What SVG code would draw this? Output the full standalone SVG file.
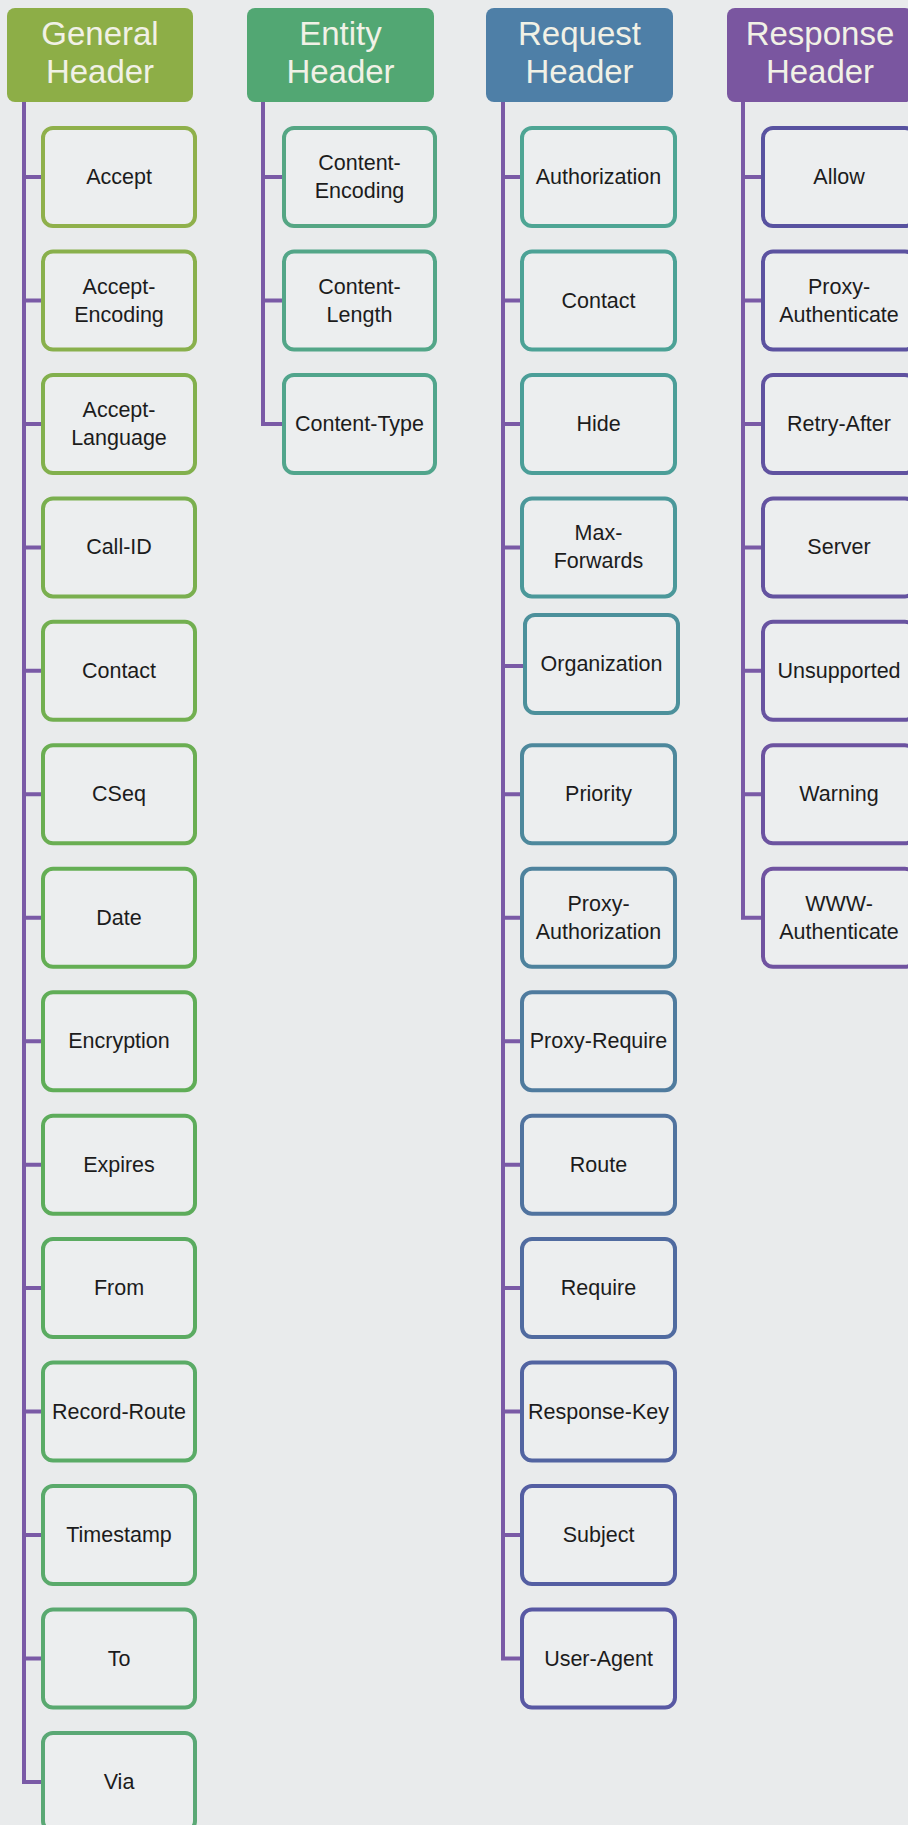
<svg xmlns="http://www.w3.org/2000/svg" width="908" height="1825" viewBox="0 0 908 1825">
<style>
.bg{fill:#e9ebec}
.hd{stroke:none}
.ht{font-family:"Liberation Sans",Arial,sans-serif;font-size:33px;fill:#f1f1e6;text-anchor:middle}
.bx{fill:#eceeef;stroke-width:4}
.t{font-family:"Liberation Sans",Arial,sans-serif;font-size:21.5px;fill:#1c1c1c;text-anchor:middle}
.cn{fill:none;stroke:#7a5aa6;stroke-width:4}
</style>
<rect class="bg" x="0" y="0" width="908" height="1825"/>
<g id="connectors">
<path class="cn" d="M24 102V1782H43M24 177H43M24 300.5H43M24 424H43M24 547.4H43M24 670.8H43M24 794.3H43M24 917.8H43M24 1041.2H43M24 1164.7H43M24 1288.1H43M24 1411.6H43M24 1535.1H43M24 1658.5H43"/>
<path class="cn" d="M263 102V424H284M263 177H284M263 300.5H284"/>
<path class="cn" d="M503 102V1658.5H522M503 177H522M503 300.5H522M503 424H522M503 547.4H522M503 666H525M503 794.3H522M503 917.8H522M503 1041.2H522M503 1164.7H522M503 1288.1H522M503 1411.6H522M503 1535.1H522"/>
<path class="cn" d="M743 102V917.8H763M743 177H763M743 300.5H763M743 424H763M743 547.4H763M743 670.8H763M743 794.3H763"/>
</g>
<g id="general-header"><rect class="hd" x="7" y="8" width="186" height="94" rx="8" fill="#8dae47"/><text class="ht" x="100" y="45">General</text><text class="ht" x="100" y="83">Header</text></g>
<g id="entity-header"><rect class="hd" x="247" y="8" width="187" height="94" rx="8" fill="#52a773"/><text class="ht" x="340.5" y="45">Entity</text><text class="ht" x="340.5" y="83">Header</text></g>
<g id="request-header"><rect class="hd" x="486" y="8" width="187" height="94" rx="8" fill="#4e7fa7"/><text class="ht" x="579.5" y="45">Request</text><text class="ht" x="579.5" y="83">Header</text></g>
<g id="response-header"><rect class="hd" x="727" y="8" width="186" height="94" rx="8" fill="#7a56a0"/><text class="ht" x="820" y="45">Response</text><text class="ht" x="820" y="83">Header</text></g>

<g id="g-accept"><rect class="bx" x="43" y="128" width="152" height="98" rx="10" stroke="#8fb04b"/><text class="t" x="119" y="184">Accept</text></g>
<g id="g-accept-encoding"><rect class="bx" x="43" y="251.5" width="152" height="98" rx="10" stroke="#89b04c"/><text class="t" x="119" y="293.5">Accept-</text><text class="t" x="119" y="321.5">Encoding</text></g>
<g id="g-accept-language"><rect class="bx" x="43" y="375" width="152" height="98" rx="10" stroke="#82b04d"/><text class="t" x="119" y="417">Accept-</text><text class="t" x="119" y="445">Language</text></g>
<g id="g-call-id"><rect class="bx" x="43" y="498.4" width="152" height="98" rx="10" stroke="#7aaf4f"/><text class="t" x="119" y="554.4">Call-ID</text></g>
<g id="g-contact"><rect class="bx" x="43" y="621.8" width="152" height="98" rx="10" stroke="#72af50"/><text class="t" x="119" y="677.8">Contact</text></g>
<g id="g-cseq"><rect class="bx" x="43" y="745.3" width="152" height="98" rx="10" stroke="#6aae52"/><text class="t" x="119" y="801.3">CSeq</text></g>
<g id="g-date"><rect class="bx" x="43" y="868.8" width="152" height="98" rx="10" stroke="#64ae54"/><text class="t" x="119" y="924.8">Date</text></g>
<g id="g-encryption"><rect class="bx" x="43" y="992.2" width="152" height="98" rx="10" stroke="#60ad57"/><text class="t" x="119" y="1048.2">Encryption</text></g>
<g id="g-expires"><rect class="bx" x="43" y="1115.7" width="152" height="98" rx="10" stroke="#5dac5b"/><text class="t" x="119" y="1171.7">Expires</text></g>
<g id="g-from"><rect class="bx" x="43" y="1239.1" width="152" height="98" rx="10" stroke="#5bab61"/><text class="t" x="119" y="1295.1">From</text></g>
<g id="g-record-route"><rect class="bx" x="43" y="1362.6" width="152" height="98" rx="10" stroke="#5aab66"/><text class="t" x="119" y="1418.6">Record-Route</text></g>
<g id="g-timestamp"><rect class="bx" x="43" y="1486.1" width="152" height="98" rx="10" stroke="#5aaa6b"/><text class="t" x="119" y="1542.1">Timestamp</text></g>
<g id="g-to"><rect class="bx" x="43" y="1609.5" width="152" height="98" rx="10" stroke="#5aa970"/><text class="t" x="119" y="1665.5">To</text></g>
<g id="g-via"><rect class="bx" x="43" y="1733" width="152" height="98" rx="10" stroke="#5aa875"/><text class="t" x="119" y="1789">Via</text></g>

<g id="e-content-encoding"><rect class="bx" x="284" y="128" width="151" height="98" rx="10" stroke="#55a684"/><text class="t" x="359.5" y="170">Content-</text><text class="t" x="359.5" y="198">Encoding</text></g>
<g id="e-content-length"><rect class="bx" x="284" y="251.5" width="151" height="98" rx="10" stroke="#53a688"/><text class="t" x="359.5" y="293.5">Content-</text><text class="t" x="359.5" y="321.5">Length</text></g>
<g id="e-content-type"><rect class="bx" x="284" y="375" width="151" height="98" rx="10" stroke="#51a58c"/><text class="t" x="359.5" y="431">Content-Type</text></g>

<g id="r-authorization"><rect class="bx" x="522" y="128" width="153" height="98" rx="10" stroke="#4ea594"/><text class="t" x="598.5" y="184">Authorization</text></g>
<g id="r-contact"><rect class="bx" x="522" y="251.5" width="153" height="98" rx="10" stroke="#4ca296"/><text class="t" x="598.5" y="307.5">Contact</text></g>
<g id="r-hide"><rect class="bx" x="522" y="375" width="153" height="98" rx="10" stroke="#4b9e98"/><text class="t" x="598.5" y="431">Hide</text></g>
<g id="r-max-forwards"><rect class="bx" x="522" y="498.4" width="153" height="98" rx="10" stroke="#4b989a"/><text class="t" x="598.5" y="540.4">Max-</text><text class="t" x="598.5" y="568.4">Forwards</text></g>
<g id="r-organization"><rect class="bx" x="525" y="615" width="153" height="98" rx="10" stroke="#4c909b"/><text class="t" x="601.5" y="671">Organization</text></g>
<g id="r-priority"><rect class="bx" x="522" y="745.3" width="153" height="98" rx="10" stroke="#4d889c"/><text class="t" x="598.5" y="801.3">Priority</text></g>
<g id="r-proxy-authorization"><rect class="bx" x="522" y="868.8" width="153" height="98" rx="10" stroke="#4e829d"/><text class="t" x="598.5" y="910.8">Proxy-</text><text class="t" x="598.5" y="938.8">Authorization</text></g>
<g id="r-proxy-require"><rect class="bx" x="522" y="992.2" width="153" height="98" rx="10" stroke="#4f7b9e"/><text class="t" x="598.5" y="1048.2">Proxy-Require</text></g>
<g id="r-route"><rect class="bx" x="522" y="1115.7" width="153" height="98" rx="10" stroke="#50739f"/><text class="t" x="598.5" y="1171.7">Route</text></g>
<g id="r-require"><rect class="bx" x="522" y="1239.1" width="153" height="98" rx="10" stroke="#506ba0"/><text class="t" x="598.5" y="1295.1">Require</text></g>
<g id="r-response-key"><rect class="bx" x="522" y="1362.6" width="153" height="98" rx="10" stroke="#5264a1"/><text class="t" x="598.5" y="1418.6">Response-Key</text></g>
<g id="r-subject"><rect class="bx" x="522" y="1486.1" width="153" height="98" rx="10" stroke="#545ea2"/><text class="t" x="598.5" y="1542.1">Subject</text></g>
<g id="r-user-agent"><rect class="bx" x="522" y="1609.5" width="153" height="98" rx="10" stroke="#5858a3"/><text class="t" x="598.5" y="1665.5">User-Agent</text></g>

<g id="s-allow"><rect class="bx" x="763" y="128" width="152" height="98" rx="10" stroke="#5852a0"/><text class="t" x="839" y="184">Allow</text></g>
<g id="s-proxy-authenticate"><rect class="bx" x="763" y="251.5" width="152" height="98" rx="10" stroke="#5c52a0"/><text class="t" x="839" y="293.5">Proxy-</text><text class="t" x="839" y="321.5">Authenticate</text></g>
<g id="s-retry-after"><rect class="bx" x="763" y="375" width="152" height="98" rx="10" stroke="#6052a0"/><text class="t" x="839" y="431">Retry-After</text></g>
<g id="s-server"><rect class="bx" x="763" y="498.4" width="152" height="98" rx="10" stroke="#6453a0"/><text class="t" x="839" y="554.4">Server</text></g>
<g id="s-unsupported"><rect class="bx" x="763" y="621.8" width="152" height="98" rx="10" stroke="#6853a0"/><text class="t" x="839" y="677.8">Unsupported</text></g>
<g id="s-warning"><rect class="bx" x="763" y="745.3" width="152" height="98" rx="10" stroke="#6c53a0"/><text class="t" x="839" y="801.3">Warning</text></g>
<g id="s-www-authenticate"><rect class="bx" x="763" y="868.8" width="152" height="98" rx="10" stroke="#7053a0"/><text class="t" x="839" y="910.8">WWW-</text><text class="t" x="839" y="938.8">Authenticate</text></g>
</svg>
